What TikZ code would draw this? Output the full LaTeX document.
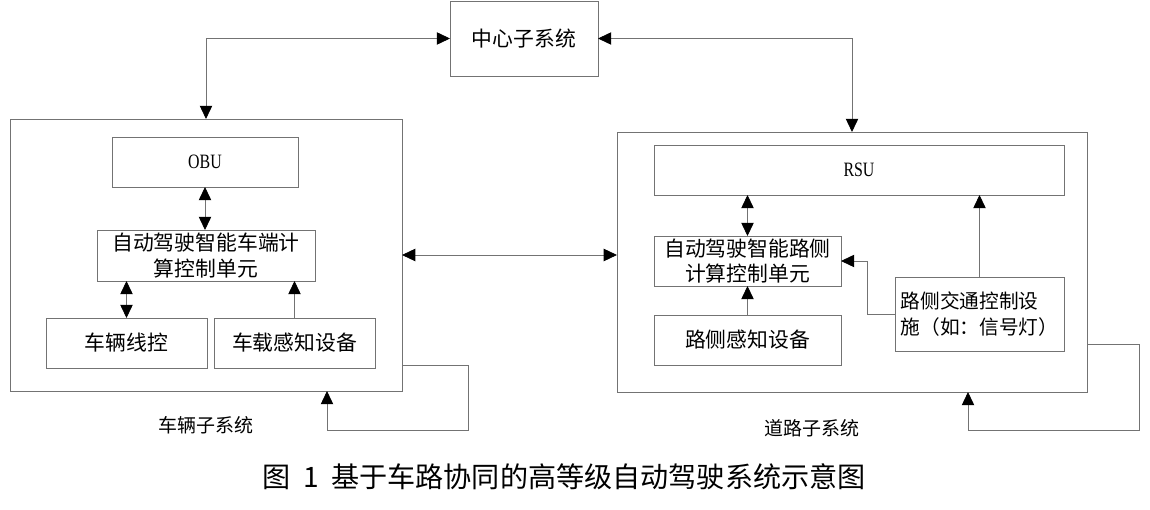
\documentclass[tikz,border=0pt]{standalone}
\usepackage{fontspec}
\setmainfont{Noto Sans CJK SC}
\newfontfamily\latinserif{Liberation Serif}[FakeStretch=0.78]
\usetikzlibrary{arrows.meta,positioning}

\begin{document}
\begin{tikzpicture}[
    x=0.025cm, y=-0.025cm,
    outerbox/.style={draw=black!55, line width=0.6pt, inner sep=0pt, outer sep=0pt},
    box/.style={draw=black!55, line width=0.6pt, inner sep=0pt, outer sep=0pt, align=center,
      minimum height=1.25cm, font=\fontsize{14.8}{18}\selectfont},
    smallbox/.style={box, font=\latinserif\fontsize{14.5}{16}\selectfont},
    arrow/.style={draw=black!55, line width=0.6pt, -{Triangle[length=3.3mm, width=3.1mm, black]}},
    dblarrow/.style={draw=black!55, line width=0.6pt,
      {Triangle[length=3.3mm, width=3.1mm, black]}-{Triangle[length=3.3mm, width=3.1mm, black]}},
    syslabel/.style={font=\fontsize{13.5}{15}\selectfont}
  ]
    \useasboundingbox (0,0) rectangle (1150,510);

    \node[box, minimum width=3.7cm, minimum height=1.875cm] (center) at (524,38.5) {中心子系统};

    % vehicle side
    \node[outerbox, minimum width=9.8cm, minimum height=6.8cm] (vout) at (206,255) {};
    \node[smallbox, minimum width=4.65cm] (obu) at (205,162) {OBU};
    \node[box, minimum width=5.45cm, minimum height=1.275cm] (vcomp) at (206,255.5)
      {自动驾驶智能车端计\\算控制单元};
    \node[box, minimum width=4.025cm] (wire) at (126.5,343) {车辆线控};
    \node[box, minimum width=4.025cm] (vsense) at (294.5,343) {车载感知设备};
    \node[syslabel] (vlabel) at (206,425) {车辆子系统};

    % road side
    \node[outerbox, minimum width=11.75cm, minimum height=6.5cm] (rout) at (852,262) {};
    \node[smallbox, minimum width=10.25cm] (rsu) at (859,170) {RSU};
    \node[box, minimum width=4.675cm] (rcomp) at (747.5,261) {自动驾驶智能路侧\\计算控制单元};
    \node[box, minimum width=4.675cm] (rsense) at (747.5,340) {路侧感知设备};
    \node[box, minimum width=4.225cm, minimum height=1.85cm, align=left,
      font=\fontsize{14}{18}\selectfont] (signal) at (979.5,314)
      {路侧交通控制设\\施（如：信号灯）};
    \node[syslabel] (rlabel) at (812,428) {道路子系统};

    \node[font=\fontsize{20}{24}\selectfont] (caption) at (564,477)
      {图\hspace{0.45em}1\hspace{0.45em}基于车路协同的高等级自动驾驶系统示意图};

    \coordinate (vl1) at (468,365);
    \coordinate (vl2) at (327,430);
    \coordinate (rl1) at (1139,344);
    \coordinate (rl2) at (968,430);
    \coordinate (sigbend) at (867,261);

    \draw[dblarrow] (vout.north) |- (center.west);
    \draw[dblarrow] (rout.north) |- (center.east);
    \draw[dblarrow] (vout.east) -- (vout.east -| rout.west);

    \draw[dblarrow] (vcomp.north -| obu.south) -- (obu.south);
    \draw[dblarrow] (wire.north) -- (wire.north |- vcomp.south);
    \draw[arrow] (vsense.north) -- (vsense.north |- vcomp.south);
    \draw[arrow] (vout.east |- vl1) -- (vl1) |- (vl2) -- (vl2 |- vout.south);

    \draw[dblarrow] (rcomp.north) -- (rcomp.north |- rsu.south);
    \draw[arrow] (rsense.north) -- (rsense.north |- rcomp.south);
    \draw[arrow] (signal.west) -| (sigbend) -- (rcomp.east |- sigbend);
    \draw[arrow] (signal.north) -- (signal.north |- rsu.south);
    \draw[arrow] (rout.east |- rl1) -- (rl1) |- (rl2) -- (rl2 |- rout.south);
\end{tikzpicture}
\end{document}
